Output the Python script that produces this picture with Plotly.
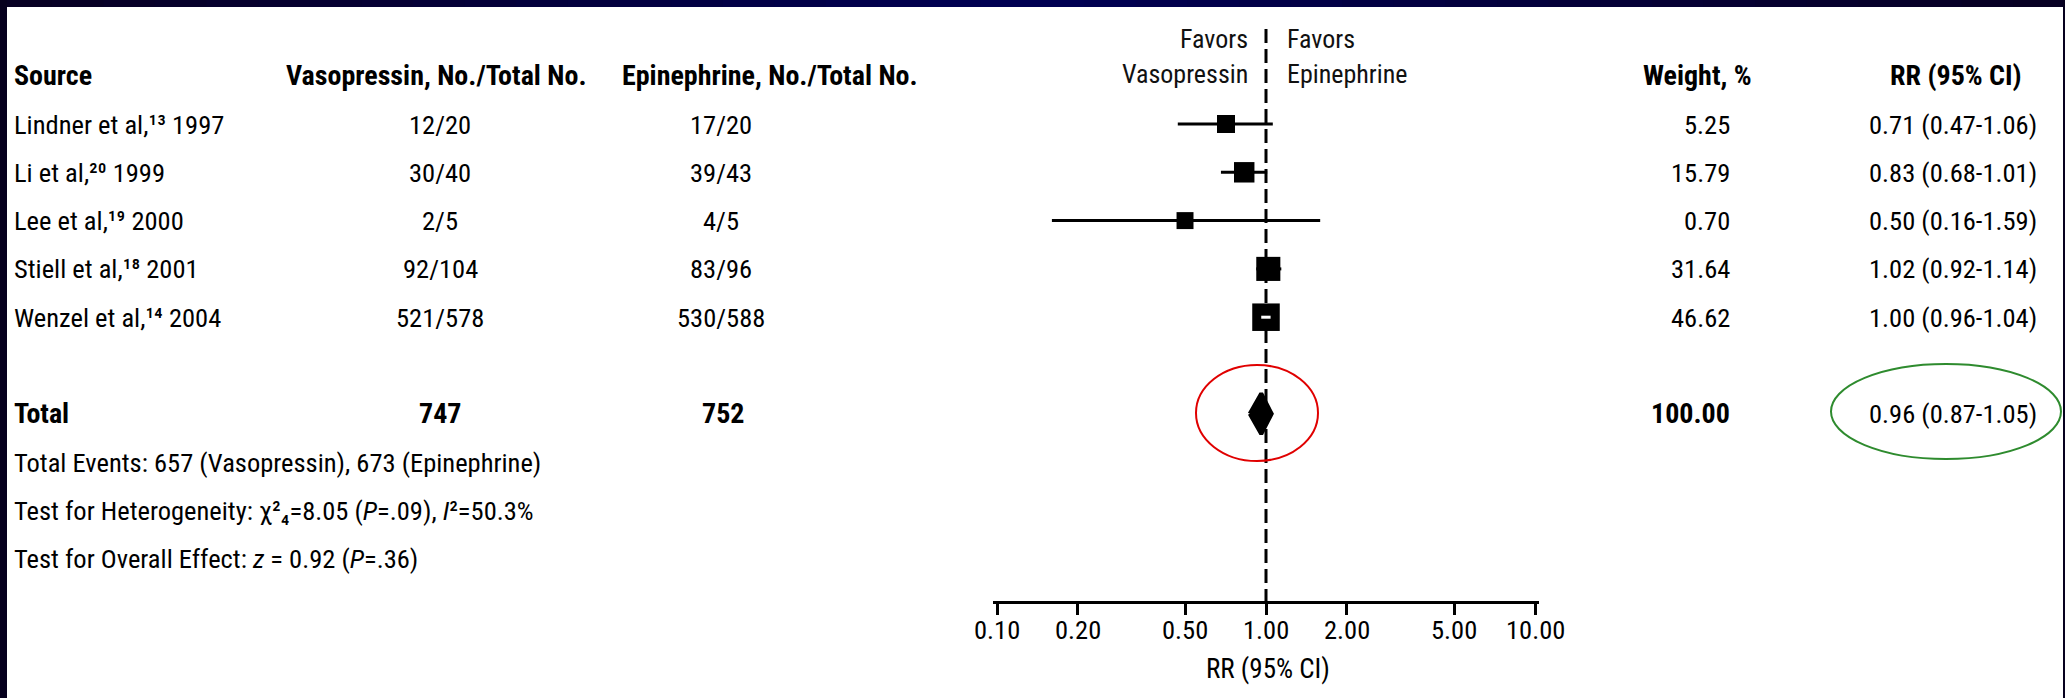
import math
import plotly.graph_objects as go

# ---------------- data ----------------
studies = ["Lindner et al,¹³ 1997", "Li et al,²⁰ 1999", "Lee et al,¹⁹ 2000",
           "Stiell et al,¹⁸ 2001", "Wenzel et al,¹⁴ 2004"]
vaso_events = [12, 30, 2, 92, 521]
vaso_total = [20, 40, 5, 104, 578]
epi_events = [17, 39, 4, 83, 530]
epi_total = [20, 43, 5, 96, 588]
weights = [5.25, 15.79, 0.70, 31.64, 46.62]
rr = [0.71, 0.83, 0.50, 1.02, 1.00]
rr_lo = [0.47, 0.68, 0.16, 0.92, 0.96]
rr_hi = [1.06, 1.01, 1.59, 1.14, 1.04]
ci_inside_box = [False, False, False, False, True]

total_vaso = 747
total_epi = 752
total_weight = 100.00
total_rr = 0.96
total_lo = 0.87
total_hi = 1.05
events_vaso = 657
events_epi = 673

tick_vals = [0.1, 0.2, 0.5, 1, 2, 5, 10]
tick_text = ["0.10", "0.20", "0.50", "1.00", "2.00", "5.00", "10.00"]

# ---------------- layout constants ----------------
W, H = 2065, 698
ROW1 = 124.0       # pixel y of first study row
ROWH = 48.3        # pixel spacing between rows
AXIS_PY = 602      # pixel y of the RR axis line
X0_PX, X1_PX = 993, 1539   # pixel extent of forest axis
DEC = 269.0                 # pixels per decade
FONT = "Roboto Condensed, Liberation Sans Narrow, Arial Narrow, Liberation Sans, sans-serif"
FS = 26.5      # regular text
FSB = 28       # bold text


def xp(px):
    return px / W


def yp(py):
    return 1 - py / H


def row_of(py):
    return 1 + (py - ROW1) / ROWH


study_rows = list(range(1, len(studies) + 1))
total_row = 7
footer_rows = [8, 9, 10]
header_row = 0

fig = go.Figure()

# reference dashed line at RR = 1
fig.add_trace(go.Scatter(x=[1, 1], y=[row_of(29), row_of(AXIS_PY)], mode="lines",
                         line=dict(color="black", width=3, dash="14px,6px"),
                         hoverinfo="skip"))

# confidence interval lines
cx, cy = [], []
for lo, hi, r in zip(rr_lo, rr_hi, study_rows):
    cx += [lo, hi, None]
    cy += [r, r, None]
fig.add_trace(go.Scatter(x=cx, y=cy, mode="lines", line=dict(color="black", width=3),
                         hoverinfo="skip"))

# study squares (size scaled by weight)
sizes = [16.8 + 0.23 * w for w in weights]
fig.add_trace(go.Scatter(x=rr, y=study_rows, mode="markers",
                         marker=dict(symbol="square", size=sizes, color="black",
                                     opacity=1, line=dict(width=0)),
                         hoverinfo="skip"))

# CI drawn in white where it lies within its box
wx, wy = [], []
for lo, hi, r, inside in zip(rr_lo, rr_hi, study_rows, ci_inside_box):
    if inside:
        wx += [lo, hi, None]
        wy += [r, r, None]
fig.add_trace(go.Scatter(x=wx, y=wy, mode="lines", line=dict(color="white", width=3),
                         hoverinfo="skip"))

# pooled diamond
dh = 0.42
fig.add_trace(go.Scatter(x=[total_lo, total_rr, total_hi, total_rr, total_lo],
                         y=[total_row, total_row - dh, total_row, total_row + dh, total_row],
                         mode="lines", fill="toself", fillcolor="black",
                         line=dict(color="black", width=4), hoverinfo="skip"))

# ---------------- text ----------------
ann = []


def txt(text, x_px, row=None, py=None, anchor="left", bold=False, size=None,
        color="black", xref="paper", xval=None):
    if size is None:
        size = FSB if bold else FS
    d = dict(text=text, xref=xref, xanchor=anchor, showarrow=False,
             font=dict(family=FONT, size=size, color=color,
                       weight="bold" if bold else "normal"),
             yanchor="middle")
    d["x"] = xval if xval is not None else xp(x_px)
    if row is not None:
        d.update(y=row, yref="y")
    else:
        d.update(y=yp(py), yref="paper")
    ann.append(d)


# header
txt("Source", 12, row=header_row, bold=True)
txt("Vasopressin, No./Total No.", 436, row=header_row, anchor="center", bold=True)
txt("Epinephrine, No./Total No.", 770, row=header_row, anchor="center", bold=True)
txt("Weight, %", 1697, row=header_row, anchor="center", bold=True)
txt("RR (95% CI)", 1956, row=header_row, anchor="center", bold=True)

# favors labels
txt("Favors", 1250, py=39, anchor="right", size=26, color="#111111")
txt("Vasopressin", 1250, py=74, anchor="right", size=26, color="#111111")
txt("Favors", 1285, py=39, anchor="left", size=26, color="#111111")
txt("Epinephrine", 1285, py=74, anchor="left", size=26, color="#111111")

# study rows
for i, r in enumerate(study_rows):
    txt(studies[i], 12, row=r)
    txt(f"{vaso_events[i]}/{vaso_total[i]}", 440, row=r, anchor="center")
    txt(f"{epi_events[i]}/{epi_total[i]}", 721, row=r, anchor="center")
    txt(f"{weights[i]:.2f}", 1732, row=r, anchor="right")
    txt(f"{rr[i]:.2f} ({rr_lo[i]:.2f}-{rr_hi[i]:.2f})", 1953, row=r, anchor="center")

# total row
txt("Total", 12, row=total_row, bold=True)
txt(f"{total_vaso}", 440, row=total_row, anchor="center", bold=True)
txt(f"{total_epi}", 723, row=total_row, anchor="center", bold=True)
txt(f"{total_weight:.2f}", 1732, row=total_row, anchor="right", bold=True)
txt(f"{total_rr:.2f} ({total_lo:.2f}-{total_hi:.2f})", 1953, row=total_row, anchor="center")

# footers
txt(f"Total Events: {events_vaso} (Vasopressin), {events_epi} (Epinephrine)", 12, row=footer_rows[0])
txt("Test for Heterogeneity: χ²₄=8.05 (<i>P</i>=.09), <i>I</i>²=50.3%", 12, row=footer_rows[1])
txt("Test for Overall Effect: <i>z</i> = 0.92 (<i>P</i>=.36)", 12, row=footer_rows[2])

# tick labels of the RR axis (placed on the log axis)
for tv, tt in zip(tick_vals, tick_text):
    txt(tt, None, py=629, anchor="center", size=26.5, xref="x", xval=math.log10(tv))

# axis title
txt("RR (95% CI)", 1268, py=669, anchor="center", size=27)

# ---------------- shapes: frame + highlight ellipses ----------------
shapes = []
nseg = 40
for k in range(nseg):
    t = (k + 0.5) / nseg
    c = 1 - abs(2 * t - 1)
    r_ = int(8 * (1 - c))
    b_ = int(34 + 50 * c)
    shapes.append(dict(type="rect", xref="paper", yref="paper",
                       x0=k / nseg, x1=(k + 1) / nseg + 0.001, y0=yp(7), y1=1,
                       fillcolor=f"rgb({r_},0,{b_})", line=dict(width=0), layer="above"))
shapes.append(dict(type="rect", xref="paper", yref="paper", x0=0, x1=xp(7), y0=0, y1=1,
                   fillcolor="#06001e", line=dict(width=0), layer="above"))
shapes.append(dict(type="rect", xref="paper", yref="paper", x0=xp(2063), x1=1, y0=0, y1=1,
                   fillcolor="#06001e", line=dict(width=0), layer="above"))
shapes.append(dict(type="circle", xref="paper", yref="paper",
                   x0=xp(1196), x1=xp(1318), y0=yp(365), y1=yp(461),
                   line=dict(color="#e00000", width=2), layer="above"))
shapes.append(dict(type="circle", xref="paper", yref="paper",
                   x0=xp(1831), x1=xp(2061), y0=yp(364), y1=yp(459),
                   line=dict(color="#2e8b2e", width=2), layer="above"))

fig.update_layout(
    width=W, height=H, margin=dict(l=0, r=0, t=0, b=0, pad=0), autosize=False,
    paper_bgcolor="white", plot_bgcolor="rgba(0,0,0,0)",
    showlegend=False, hovermode=False,
    annotations=ann, shapes=shapes,
    xaxis=dict(type="log", domain=[xp(X0_PX), xp(X1_PX)],
               range=[-1 - 4 / DEC, 1 + 4 / DEC],
               anchor="free", position=yp(AXIS_PY),
               showline=True, linecolor="black", linewidth=3,
               ticks="outside", ticklen=11, tickwidth=3, tickcolor="black",
               tickvals=tick_vals, showticklabels=False,
               showgrid=False, zeroline=False, fixedrange=True),
    yaxis=dict(domain=[0, 1], range=[row_of(H), row_of(0)], visible=False,
               showgrid=False, zeroline=False, fixedrange=True),
)

fig.write_html("out.html",
               config={"displayModeBar": False, "responsive": False},
               post_script="document.body.style.margin='0';document.body.style.padding='0';"
                           "document.body.style.overflow='hidden';"
                           "document.documentElement.style.overflow='hidden';")
